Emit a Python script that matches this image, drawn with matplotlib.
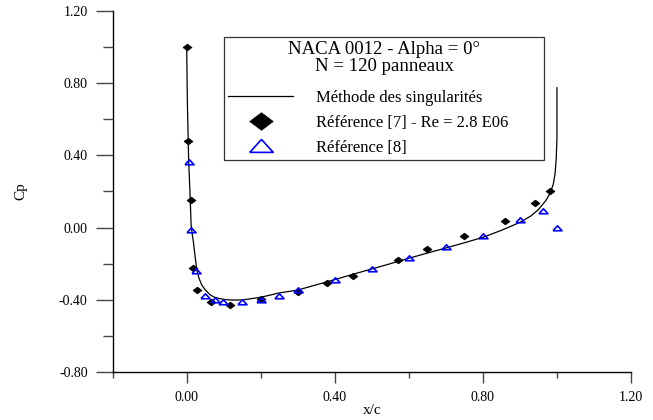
import matplotlib
matplotlib.use("Agg")
import matplotlib.pyplot as plt
from matplotlib.ticker import MultipleLocator, FormatStrFormatter

plt.rcParams['font.family'] = ['Liberation Serif', 'DejaVu Serif']
plt.rcParams['axes.unicode_minus'] = False

# Panel method (Méthode des singularités)
x_panel = [0.0, 0.001, 0.002, 0.004, 0.005, 0.007, 0.0095, 0.0117, 0.015, 0.018, 0.022,
           0.027, 0.033, 0.04, 0.05, 0.063, 0.075, 0.09, 0.105, 0.12, 0.15, 0.20, 0.25,
           0.30, 0.35, 0.40, 0.45, 0.50, 0.55, 0.60, 0.65, 0.70, 0.75, 0.80, 0.85, 0.90,
           0.93, 0.95, 0.97, 0.982, 0.99, 0.995, 0.998, 1.0, 1.0]
cp_panel = [0.98, 0.80, 0.66, 0.48, 0.38, 0.28, 0.15, 0.02, -0.04, -0.08, -0.15,
            -0.233, -0.28, -0.316, -0.345, -0.372, -0.386, -0.394, -0.399, -0.401, -0.401, -0.386, -0.362,
            -0.346, -0.317, -0.288, -0.258, -0.229, -0.200, -0.170, -0.141, -0.113, -0.084, -0.054, -0.015, 0.029,
            0.065, 0.10, 0.15, 0.192, 0.24, 0.30, 0.38, 0.50, 0.775]

# Référence [7] - Re = 2.8 E06
x_ref7 = [0.0, 0.004, 0.0117, 0.016, 0.029, 0.066, 0.116, 0.20, 0.30, 0.38, 0.45,
          0.57, 0.649, 0.749, 0.861, 0.94, 0.981]
cp_ref7 = [1.0, 0.48, 0.155, -0.225, -0.344, -0.412, -0.431, -0.398, -0.359, -0.307, -0.266,
           -0.179, -0.118, -0.044, 0.035, 0.135, 0.201]

# Référence [8]
x_ref8 = [0.005, 0.0117, 0.024, 0.049, 0.077, 0.099, 0.149, 0.20, 0.249, 0.30, 0.40,
          0.50, 0.60, 0.70, 0.80, 0.90, 0.961, 1.0]
cp_ref8 = [0.362, -0.011, -0.24, -0.377, -0.399, -0.41, -0.41, -0.40, -0.377, -0.348, -0.288,
           -0.229, -0.166, -0.109, -0.044, 0.044, 0.094, 0.0]

legend_title = "NACA 0012 - Alpha = 0°\nN = 120 panneaux"
labels = ["Méthode des singularités", "Référence [7] - Re = 2.8 E06", "Référence [8]"]

diamond = [(-1, 0), (0, 0.75), (1, 0), (0, -0.75), (-1, 0)]
triangle = [(-1, -0.5), (1, -0.5), (0, 0.6), (-1, -0.5)]

fig = plt.figure(figsize=(6.53, 4.20), dpi=100)
ax = fig.add_axes([0.1726, 0.1143, 0.7937, 0.8595])

ax.plot(x_panel, cp_panel, color='black', lw=0.9, label=labels[0], zorder=2)
ax.plot(x_ref7, cp_ref7, ls='none', marker=diamond, ms=6.5, mfc='black', mec='black',
        mew=0.5, label=labels[1], zorder=3)
ax.plot(x_ref8, cp_ref8, ls='none', marker=triangle, ms=6.5, mfc='none', mec='#0000ff',
        mew=1.2, label=labels[2], zorder=4)

ax.set_xlim(-0.2, 1.2)
ax.set_ylim(-0.8, 1.2)
ax.xaxis.set_major_locator(MultipleLocator(0.4))
ax.xaxis.set_minor_locator(MultipleLocator(0.2))
ax.yaxis.set_major_locator(MultipleLocator(0.4))
ax.yaxis.set_minor_locator(MultipleLocator(0.2))
ax.xaxis.set_major_formatter(FormatStrFormatter('%.2f'))
ax.yaxis.set_major_formatter(FormatStrFormatter('%.2f'))

for s in ['top', 'right']:
    ax.spines[s].set_visible(False)
for s in ['left', 'bottom']:
    ax.spines[s].set_linewidth(1.0)

ax.tick_params(axis='y', which='major', direction='out', length=12, width=1.0,
               color='#444444', labelsize=10, pad=6)
ax.tick_params(axis='y', which='minor', direction='out', length=7, width=1.0, color='#444444')
ax.tick_params(axis='x', which='major', direction='out', length=8, width=1.0,
               color='#444444', labelsize=10, pad=6)
ax.tick_params(axis='x', which='minor', direction='out', length=4, width=1.0, color='#444444')

ax.set_xlabel("x/c", fontsize=11, labelpad=0)
ax.set_ylabel("Cp", fontsize=11, labelpad=23)

leg = ax.legend(title=legend_title, loc='upper left',
                bbox_to_anchor=(0.2147, 0.593, 0.6175, 0.335), mode='expand',
                fontsize=12, title_fontsize=13.5, frameon=True, fancybox=False,
                edgecolor='#333333', framealpha=1, borderpad=0.25,
                handlelength=3.9, handletextpad=1.4, labelspacing=0.55,
                markerscale=2.6, borderaxespad=0)
leg.get_frame().set_linewidth(0.9)
leg.get_title().set_multialignment('center')
leg.get_title().set_linespacing(0.95)
leg._legend_box.sep = 11

fig.savefig("out.png", dpi=100)
